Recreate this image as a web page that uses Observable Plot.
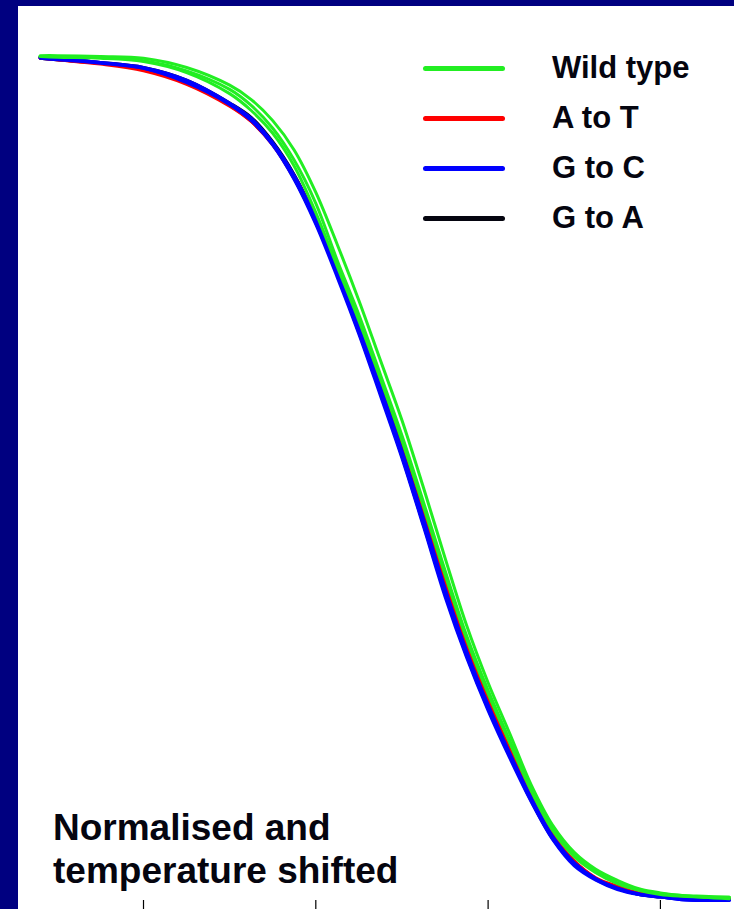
<!DOCTYPE html>
<html><head><meta charset="utf-8">
<script src="https://cdn.jsdelivr.net/npm/d3@7"></script>
<script src="https://cdn.jsdelivr.net/npm/@observablehq/plot@0.6"></script>
<style>
body{margin:0;background:#000080;}
#wrap{position:relative;width:734px;height:909px;background:#000080;overflow:hidden;font-family:"Liberation Sans",Arial,Helvetica,sans-serif;}
#chart{position:absolute;left:18px;top:6px;width:716px;height:903px;background:#fff;}
#chart svg{display:block;background:#fff;}
#legend{position:absolute;left:423px;top:43px;}
.row{display:flex;align-items:center;height:50px;}
.sw{width:82px;height:5px;border-radius:3px;}
.lab{margin-left:47px;font-weight:bold;font-size:31px;color:#05050f;white-space:nowrap;}
#caption{position:absolute;left:53px;top:806px;font-weight:bold;font-size:37px;line-height:43px;color:#05050f;white-space:nowrap;}
</style>
</head><body>
<div id="wrap">
  <div id="chart"></div>
  <div id="legend"></div>
  <div id="caption">Normalised and<br>temperature shifted</div>
</div>
<script>
// Temperature (°C, shifted) sample points
const temps = [76.8, 77.0, 77.5, 78.0, 78.5, 79.0, 79.25, 79.5, 79.75, 80.0, 80.25, 80.5, 80.75, 81.0, 81.25, 81.5, 81.75, 82.0, 82.25, 82.5, 82.75, 83.0, 83.25, 83.5, 83.75, 84.0, 84.25, 84.5, 84.8];
const tickTemps = [78, 80, 82, 84];

// Groups (legend order) and colours
const groups = ["Wild type", "A to T", "G to C", "G to A"];
const groupColors = ["#22ee22", "#ff0000", "#0000ff", "#05050f"];

// Normalised fluorescence (%) per replicate
const gToA1 = [99.9, 99.8, 99.3, 98.7, 97.2, 94.5, 92.8, 89.9, 86.0, 80.9, 74.8, 68.1, 61.0, 53.6, 45.5, 37.2, 29.9, 23.3, 17.7, 12.3, 7.7, 4.6, 2.6, 1.5, 0.8, 0.5, 0.2, 0.1, 0.1];
const gToA2 = [99.8, 99.6, 99.2, 98.5, 96.9, 94.3, 92.4, 89.6, 85.5, 80.3, 74.1, 67.3, 60.1, 52.6, 44.5, 36.3, 29.0, 22.7, 17.2, 11.8, 7.3, 4.3, 2.5, 1.4, 0.7, 0.4, 0.2, 0.1, 0.1];
const aToT1 = [99.8, 99.6, 99.1, 98.3, 96.7, 94.1, 92.3, 89.6, 85.8, 80.9, 75.1, 68.7, 61.8, 54.5, 46.4, 38.2, 30.6, 23.9, 18.0, 12.6, 7.8, 4.7, 2.7, 1.7, 0.9, 0.6, 0.4, 0.2, 0.2];
const aToT2 = [99.9, 99.6, 99.2, 98.5, 96.8, 94.2, 92.3, 89.5, 85.5, 80.4, 74.4, 67.8, 60.7, 53.3, 45.4, 37.2, 29.9, 23.3, 17.7, 12.3, 7.7, 4.6, 2.6, 1.5, 0.8, 0.5, 0.2, 0.1, 0.1];
const gToC1 = [99.9, 99.8, 99.3, 98.7, 97.2, 94.5, 92.7, 89.8, 85.9, 80.8, 74.6, 67.9, 60.8, 53.3, 45.3, 37.0, 29.6, 23.2, 17.5, 12.2, 7.6, 4.5, 2.6, 1.5, 0.8, 0.5, 0.2, 0.1, 0.1];
const gToC2 = [99.8, 99.6, 99.2, 98.6, 96.9, 94.3, 92.4, 89.5, 85.4, 80.1, 73.8, 67.1, 59.8, 52.4, 44.3, 36.0, 28.8, 22.5, 16.9, 11.7, 7.2, 4.1, 2.4, 1.3, 0.7, 0.4, 0.1, 0.0, 0.0];
const gToC3 = [99.9, 99.8, 99.3, 98.6, 97.0, 94.4, 92.5, 89.7, 85.7, 80.6, 74.3, 67.5, 60.3, 52.8, 44.8, 36.5, 29.3, 22.9, 17.3, 12.0, 7.5, 4.4, 2.5, 1.4, 0.7, 0.4, 0.1, 0.0, 0.0];
const wild1 = [100.1, 100.1, 100.0, 99.8, 98.7, 96.6, 94.9, 92.4, 88.9, 83.9, 77.7, 71.1, 64.0, 56.9, 48.9, 40.6, 32.6, 25.8, 19.8, 13.7, 8.9, 5.7, 3.7, 2.4, 1.4, 0.9, 0.6, 0.5, 0.4];
const wild2 = [100.0, 100.0, 99.9, 99.5, 98.3, 96.1, 94.2, 91.5, 87.7, 82.6, 75.8, 69.4, 62.3, 55.1, 47.2, 39.1, 31.4, 24.9, 19.0, 13.3, 8.5, 5.3, 3.4, 2.1, 1.3, 0.8, 0.6, 0.4, 0.4];
const wild3 = [100.0, 99.9, 99.8, 99.4, 98.1, 95.6, 93.6, 90.9, 87.0, 81.5, 75.1, 68.7, 61.8, 54.5, 46.7, 38.6, 31.0, 24.5, 18.7, 13.0, 8.3, 5.2, 3.3, 2.0, 1.2, 0.7, 0.5, 0.4, 0.2];

// replicate table: [id, group, values] — drawn in this order (green on top)
const replicates = [
  ["gToA1", "G to A", gToA1], ["gToA2", "G to A", gToA2],
  ["aToT1", "A to T", aToT1], ["aToT2", "A to T", aToT2],
  ["gToC1", "G to C", gToC1], ["gToC2", "G to C", gToC2], ["gToC3", "G to C", gToC3],
  ["wild1", "Wild type", wild1], ["wild2", "Wild type", wild2], ["wild3", "Wild type", wild3]
];

const rows = replicates.flatMap(([id, group, vals]) =>
  vals.map((v, i) => ({id, group, t: temps[i], v})));

const chart = Plot.plot({
  width: 716,
  height: 903,
  marginLeft: 0, marginRight: 0, marginTop: 0, marginBottom: 0,
  style: {background: "#fff", overflow: "visible"},
  x: {domain: [76.549, 84.860], axis: null},
  y: {domain: [-1.066, 105.924], axis: null},
  color: {domain: groups, range: groupColors},
  marks: [
    Plot.line(rows, {x: "t", y: "v", z: "id", stroke: "group", strokeWidth: 3, strokeLinejoin: "round", strokeLinecap: "round", curve: "catmull-rom"}),
    Plot.axisX(tickTemps, {anchor: "bottom", tickSize: -9, tickFormat: () => "", label: null, stroke: "#000", strokeWidth: 1.2})
  ]
});
document.getElementById("chart").appendChild(chart);

const legend = document.getElementById("legend");
groups.forEach((g, i) => {
  const row = document.createElement("div");
  row.className = "row";
  const sw = document.createElement("div");
  sw.className = "sw";
  sw.style.background = groupColors[i];
  const lab = document.createElement("span");
  lab.className = "lab";
  lab.textContent = g;
  row.appendChild(sw); row.appendChild(lab);
  legend.appendChild(row);
});
</script>
</body></html>
